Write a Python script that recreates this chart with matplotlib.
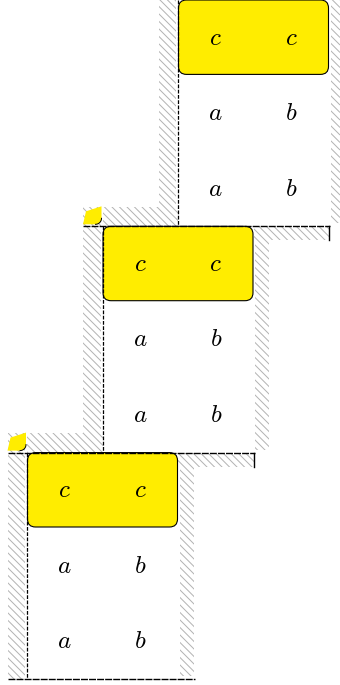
import numpy as np
import matplotlib.pyplot as plt
from matplotlib.patches import Rectangle, FancyBboxPatch, Polygon, PathPatch
from matplotlib.path import Path
from matplotlib.collections import LineCollection

plt.rcParams['mathtext.fontset'] = 'cm'

# cell labels of each matrix (same for all three copies)
row_labels = [['c', 'c'], ['a', 'b'], ['a', 'b']]
highlight_row = 0
n_copies = 3

# layout (pixels)
cell_w, cell_h = 75.5, 75.4
x0, step_x, step_y = 178, -75.5, 226.3
band = 19.5
hatch_step = 7.5
yellow = '#ffed00'
hatch_grey = '#b2b2b2'

fig = plt.figure(figsize=(3.4, 6.85), dpi=100)
ax = fig.add_axes([0, 0, 1, 1])
ax.set_xlim(0, 340)
ax.set_ylim(685, 0)
ax.axis('off')

n_rows, n_cols = len(row_labels), len(row_labels[0])
W, H = n_cols * cell_w, n_rows * cell_h

bands = []
for k in range(n_copies):
    L = x0 + k * step_x
    T = k * step_y
    R, B = L + W, T + H
    prev_L = L - step_x

    # hatched surroundings
    bands.append((L - band, T - band, band - 2, H + band))
    if k > 0:
        bands.append((L, T - band, prev_L - L, band))
    bands.append((R + 1.5, T, 14, H - 3))
    if k < n_copies - 1:
        bands.append((R + step_x, B + 1, -step_x, 13))

    # white body
    ax.add_patch(Rectangle((L, T), W, H, facecolor='white', edgecolor='none', zorder=2))

    # frame lines
    ax.plot([L, L], [T, B], color='black', lw=0.9, ls=(0, (3, 1.2)), zorder=4)
    x_start = L + step_x - band if k < n_copies - 1 else L - band
    x_end = R + 1 if k < n_copies - 1 else R + 17
    ax.plot([x_start, x_end], [B, B], color='black', lw=1.0, ls=(0, (5, 0.8)), zorder=4)
    if k < n_copies - 1:
        ax.plot([R, R], [B, B + 14], color='black', lw=1.0, zorder=4)

    # highlighted row
    ax.add_patch(FancyBboxPatch((L + 0.5, T + highlight_row * cell_h), W - 1, cell_h - 1,
                                boxstyle='round,pad=0,rounding_size=8',
                                facecolor=yellow, edgecolor='black', lw=0.8, zorder=3))

    # small yellow corner peeking out
    if k > 0:
        r = 6
        th = np.linspace(0, np.pi / 2, 12)
        arc_x = L - 1 - r + r * np.cos(th)
        arc_y = T - 2 - r + r * np.sin(th)
        pts = [(L - 19.5, T - 2), (L - 16.5, T - 15), (L - 1, T - 20)]
        pts += list(zip(arc_x, arc_y))
        ax.add_patch(Polygon(pts, closed=True, facecolor=yellow, edgecolor='none', zorder=3))
        ax.plot(arc_x, arc_y, color='black', lw=0.7, zorder=4)

    # labels
    for i, row in enumerate(row_labels):
        for j, lab in enumerate(row):
            ax.text(L + (j + 0.5) * cell_w, T + (i + 0.5) * cell_h, f'${lab}$',
                    ha='center', va='center', fontsize=18, zorder=5)

# diagonal hatching clipped to the bands
clip = Path.make_compound_path(*[Path([(x, y), (x + w, y), (x + w, y + h), (x, y + h), (x, y)],
                                      closed=True) for x, y, w, h in bands])
clip_patch = PathPatch(clip, facecolor='none', edgecolor='none', transform=ax.transData)
ax.add_patch(clip_patch)
offsets = np.arange(-400, 700, hatch_step)
segs = [[(0, c), (340, c + 340)] for c in offsets]
lc = LineCollection(segs, colors=hatch_grey, linewidths=0.7, zorder=1)
ax.add_collection(lc)
lc.set_clip_path(clip_patch)

fig.savefig('out.png', dpi=100)
